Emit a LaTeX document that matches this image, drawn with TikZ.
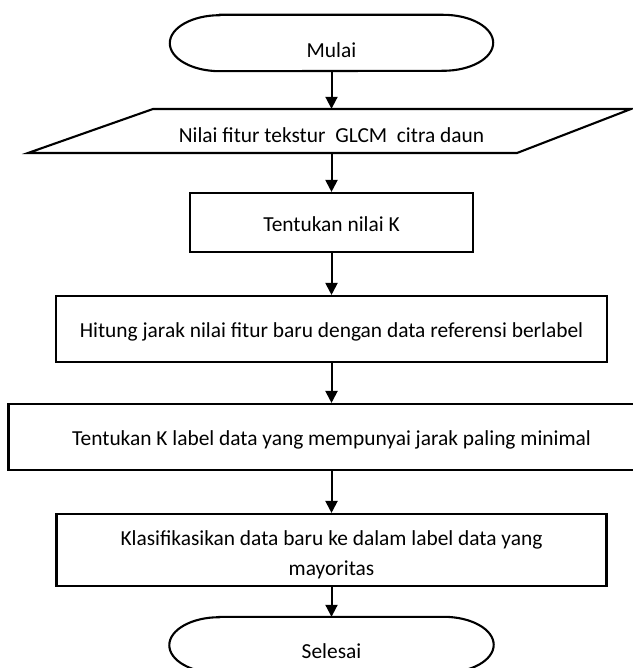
\documentclass[tikz,border=0pt]{standalone}
\usepackage{fontspec}
\setmainfont{Carlito}
\usetikzlibrary{arrows.meta}
\begin{document}
\begin{tikzpicture}[x=1pt,y=-1pt,
  every node/.style={font=\fontsize{21.4pt}{30pt}\selectfont, inner sep=0pt},
  outline/.style={line width=2.1pt},
  box/.style={draw, line width=2.1pt, align=center},
  flow/.style={line width=2pt, -{Triangle[length=12pt,width=12pt]}}]
\fill[white] (0,0) rectangle (632,668);
\useasboundingbox (0,0) rectangle (632,668);

% start terminal
\node[minimum width=323pt, minimum height=56pt, text height=29pt, text depth=0pt] (mulai) at (331.5,43) {Mulai};
\draw[outline] ([xshift=50pt]mulai.north west) -- ([xshift=-50pt]mulai.north east)
  arc[start angle=90,end angle=-90,x radius=50pt,y radius=28pt]
  -- ([xshift=50pt]mulai.south west)
  arc[start angle=270,end angle=90,x radius=50pt,y radius=28pt] -- cycle;

% input parallelogram
\node[minimum width=478pt, minimum height=44pt, text height=23pt, text depth=0pt] (data) at (331.5,131) {Nilai fitur tekstur~ GLCM~ citra daun};
\draw[outline] (153,109) -- (631,109) -- (517,153) -- (28,153) -- cycle;

% process boxes
\node[box, minimum width=283pt, minimum height=59pt, text height=17pt, text depth=0pt] (k) at (331.5,222.5) {Tentukan nilai K};
\node[box, minimum width=551pt, minimum height=66pt, text height=16pt, text depth=0pt] (hitung) at (331.5,329) {Hitung jarak nilai fitur baru dengan data referensi berlabel};
\node[box, minimum width=646pt, minimum height=66pt, text height=16pt, text depth=0pt] (label) at (331.5,437) {Tentukan K label data yang mempunyai jarak paling minimal};
\node[box, minimum width=550pt, minimum height=72pt] (klas) at (331.5,550) {\rule{0pt}{24pt}Klasifikasikan data baru ke dalam label data yang\\mayoritas};

% end terminal
\node[minimum width=324pt, minimum height=56pt, text height=26pt, text depth=0pt] (selesai) at (331.5,645) {Selesai};
\draw[outline] ([xshift=50pt]selesai.north west) -- ([xshift=-50pt]selesai.north east)
  arc[start angle=90,end angle=-90,x radius=50pt,y radius=28pt]
  -- ([xshift=50pt]selesai.south west)
  arc[start angle=270,end angle=90,x radius=50pt,y radius=28pt] -- cycle;

% connectors
\draw[flow] (mulai.south) -- (data.north);
\draw[flow] (data.south) -- (k.north);
\draw[flow] (k.south) -- (hitung.north);
\draw[flow] (hitung.south) -- (label.north);
\draw[flow] (label.south) -- (klas.north);
\draw[flow] (klas.south) -- (selesai.north);
\end{tikzpicture}
\end{document}
